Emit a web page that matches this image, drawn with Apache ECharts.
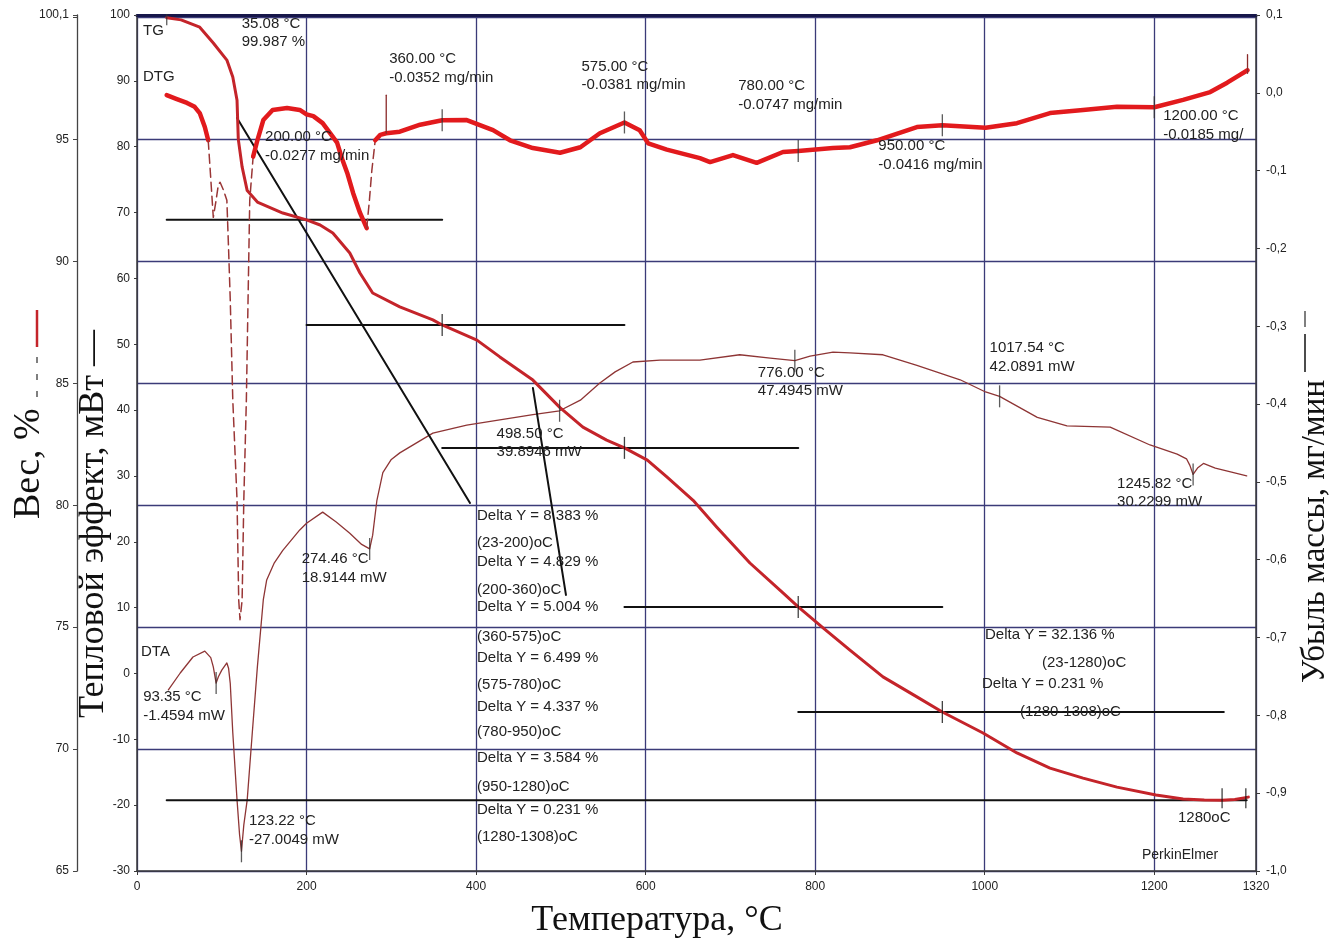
<!DOCTYPE html>
<html>
<head>
<meta charset="utf-8">
<script src="https://cdn.jsdelivr.net/npm/echarts@6/dist/echarts.min.js"></script>
<style>
  html, body { margin: 0; padding: 0; background: #fff; }
  #chart { width: 1331px; height: 942px; }
</style>
</head>
<body>
<div id="chart"></div>
<script>
// ---------- data: temperature (°C) vs signal ----------

// TG, weight %
const tgCurve = [
  [35.08, 99.987], [52, 99.9], [74, 99.6], [90, 98.95], [106, 98.25], [113, 97.56], [118, 96.6],
  [119.5, 95.0], [124, 93.87], [130, 92.9], [142, 92.43], [172, 91.98], [200, 91.7], [216, 91.49],
  [231, 91.16], [251, 90.34], [263, 89.52], [278, 88.7], [310, 88.13], [349, 87.6], [360, 87.39],
  [401, 86.77], [428, 86.08], [467, 85.13], [499, 84.0], [526, 83.2], [554, 82.67], [575, 82.35],
  [602, 81.85], [625, 81.16], [656, 80.2], [684, 79.1], [723, 77.63], [762, 76.4], [780, 75.83],
  [810, 74.95], [841, 74.06], [880, 72.96], [920, 72.14], [950, 71.52], [998, 70.66], [1038, 69.84],
  [1077, 69.22], [1116, 68.81], [1156, 68.44], [1202, 68.12], [1234, 67.95], [1259, 67.91],
  [1280, 67.9], [1295, 67.93], [1311, 68.03]
];

// DTG, mg/min (solid and dashed stretches)
const dtgSolidA = [[35, -0.003], [47, -0.008], [59, -0.013], [68, -0.018], [74, -0.026], [80, -0.044], [84, -0.061]];
const dtgDashA = [
  [84, -0.061], [87, -0.11], [90, -0.16], [93, -0.14], [96, -0.118], [98, -0.115], [102, -0.125],
  [106, -0.138], [108, -0.2], [110, -0.266], [113, -0.395], [118, -0.523], [120, -0.652], [121.5, -0.677],
  [124, -0.652], [126, -0.523], [129, -0.395], [131, -0.266], [133, -0.138], [137, -0.082]
];
const dtgSolidB = [
  [137, -0.082], [142, -0.061], [149, -0.035], [160, -0.022], [177, -0.0195], [192, -0.022], [200, -0.0277],
  [208, -0.03], [219, -0.039], [228, -0.052], [236, -0.064], [242, -0.085], [248, -0.103], [255, -0.129],
  [263, -0.154], [271, -0.174]
];
const dtgDashB = [[271, -0.174], [274, -0.14], [277, -0.1], [281, -0.061]];
const dtgSolidC = [
  [281, -0.061], [287, -0.054], [294, -0.052], [310, -0.05], [334, -0.041],
  [360, -0.0352], [389, -0.035], [420, -0.048], [440, -0.061], [467, -0.071], [499, -0.077], [523, -0.07],
  [546, -0.052], [575, -0.0381], [593, -0.048], [603, -0.065], [625, -0.073], [664, -0.084], [676, -0.089],
  [703, -0.08], [731, -0.09], [762, -0.076], [780, -0.0747], [821, -0.071], [841, -0.07], [873, -0.061],
  [920, -0.044], [950, -0.0416], [1001, -0.045], [1038, -0.039], [1077, -0.026], [1116, -0.022],
  [1156, -0.018], [1200, -0.0185], [1234, -0.009], [1266, 0.001], [1286, 0.013], [1301, 0.023],
  [1310, 0.029]
];
// narrow DTG spikes
const dtgSpikes = [
  [[294, -0.052], [294, -0.003]],
  [[1310, 0.025], [1310, 0.049]]
];

// DTA, mW
const dtaCurve = [
  [37, -2.5], [51, 0.07], [66, 2.5], [80, 3.4], [87, 2.4], [90, 1.0], [93.35, -1.4594], [96, -0.5],
  [100, 0.5], [106, 1.6], [108, 0.8], [110, -1.5], [113, -9.0], [118, -19.2], [121, -24.5],
  [123.22, -27.0049], [126, -23.0], [130, -19.2], [136, -9.0], [142, 1.0], [149, 11.2], [153, 14.2],
  [162, 16.8], [172, 18.7], [192, 21.8], [200, 22.8], [219, 24.5], [235, 23.0], [251, 21.3], [265, 19.6],
  [274.46, 18.9144], [278, 21.0], [283, 26.3], [290, 30.5], [300, 32.5], [310, 33.5], [349, 36.5],
  [389, 37.7], [428, 38.5], [467, 39.3], [498.5, 39.8946], [523, 41.5], [546, 44.1], [564, 45.8],
  [585, 47.3], [617, 47.6], [664, 47.6], [711, 48.4], [747, 47.9], [776, 47.4945], [794, 48.2],
  [821, 48.8], [841, 48.7], [880, 48.4], [920, 46.8], [971, 44.6], [1001, 42.75], [1017.54, 42.0891],
  [1062, 38.9], [1097, 37.6], [1148, 37.4], [1195, 34.7], [1227, 33.3], [1238, 32.6], [1242, 31.6],
  [1245.82, 30.2299], [1251, 31.2], [1258, 31.9], [1266, 31.5], [1272, 31.2], [1290, 30.6], [1309, 30.0]
];

// picked points
const tgPicks = [[35.08, 99.987]];
const dtgPicks = [[200, -0.0277], [360, -0.0352], [575, -0.0381], [780, -0.0747], [950, -0.0416], [1200, -0.0185]];
const dtaPicks = [[93.35, -1.4594], [123.22, -27.0049], [274.46, 18.9144], [498.5, 39.8946], [776, 47.4945], [1017.54, 42.0891], [1245.82, 30.2299]];

// weight steps: level at each step temperature, and the span of its reference line
const stepTemps = [200, 360, 575, 780, 950, 1280];
const stepLevels = [91.7, 87.39, 82.35, 75.83, 71.52, 67.9];
const stepSpans = [[35, 360], [200, 575], [360, 780], [575, 950], [780, 1282], [35, 1309]];
const stepEnds = [1280, 1308];
const stepDeltas = [8.383, 4.829, 5.004, 6.499, 4.337, 3.584, 0.231];
const stepRanges = ['23-200', '200-360', '360-575', '575-780', '780-950', '950-1280', '1280-1308'];
const totalDelta = 32.136;
const totalRange = '23-1280';
const connectorLines = [
  [[118, 95.88], [392.8, 80.09]],
  [[467, 84.81], [506, 76.32]]
];

// axis ticks
const tempTicks = { min: 0, max: 1320, step: 200 };
const weightTicks = { min: 65, max: 100.1, step: 5 };
const dtaTicks = { min: -30, max: 100, step: 10 };
const dtgTicks = { min: -1.0, max: 0.1, step: 0.1 };

// ---------- chart ----------
const SANS = '"Liberation Sans", Arial, sans-serif';
const SERIF = '"Liberation Serif", "Times New Roman", serif';
const gridColor = '#3b3b78';
const axisColor = '#3a3a3a';

const chart = echarts.init(document.getElementById('chart'), null, { renderer: 'canvas' });

function lineSeries(data, yIdx, color, width, dashed, z) {
  return {
    type: 'line', xAxisIndex: 0, yAxisIndex: yIdx, data: data,
    showSymbol: false, symbol: 'none', silent: true, animation: false, z: z,
    lineStyle: { color: color, width: width, type: dashed ? [9, 5] : 'solid', join: 'round', cap: 'round' },
    emphasis: { disabled: true }
  };
}
function tickSeries(data, yIdx, len, offsetY, color) {
  return {
    type: 'scatter', xAxisIndex: 0, yAxisIndex: yIdx, data: data, silent: true, animation: false, z: 6,
    symbol: 'rect', symbolSize: [1.3, len], symbolOffset: [0, offsetY],
    itemStyle: { color: color || '#333' }, emphasis: { disabled: true }
  };
}

const series = [];
// step reference lines
stepSpans.forEach(function (span, i) {
  series.push(lineSeries([[span[0], stepLevels[i]], [span[1], stepLevels[i]]], 0, '#111', 2, false, 3));
});
connectorLines.forEach(function (seg) { series.push(lineSeries(seg, 0, '#111', 2, false, 3)); });
// DTA
series.push(lineSeries(dtaCurve, 1, '#8e3535', 1.3, false, 2));
// TG
series.push(lineSeries(tgCurve, 0, '#c4242a', 3, false, 4));
// DTG
series.push(lineSeries(dtgSolidA, 2, '#e21a1d', 4.5, false, 4));
series.push(lineSeries(dtgDashA, 2, '#9a3636', 1.5, true, 4));
series.push(lineSeries(dtgSolidB, 2, '#e21a1d', 4.5, false, 4));
series.push(lineSeries(dtgDashB, 2, '#9a3636', 1.5, true, 4));
series.push(lineSeries(dtgSolidC, 2, '#e21a1d', 4.5, false, 4));
dtgSpikes.forEach(function (seg) { series.push(lineSeries(seg, 2, '#8a2a2a', 1.3, false, 5)); });
// markers at picked points
series.push(tickSeries(tgPicks, 0, 11, 2));
series.push(tickSeries(stepTemps.slice(1, 5).map(function (t, i) { return [t, stepLevels[i + 1]]; }), 0, 22, 0, '#111'));
series.push(tickSeries(stepEnds.map(function (t) { return [t, stepLevels[5]]; }), 0, 20, -2, '#111'));
series.push(tickSeries(dtgPicks.slice(1), 2, 22, 0));
series.push(tickSeries(dtaPicks, 1, 22, 0));

const option = {
  animation: false,
  backgroundColor: '#ffffff',
  grid: { left: 137, right: 75, top: 15, bottom: 71, containLabel: false, outerBoundsMode: 'none' },
  xAxis: [
    {
      type: 'value', min: tempTicks.min, max: tempTicks.max, interval: tempTicks.step, position: 'bottom',
      axisLine: { show: true, onZero: false, lineStyle: { color: axisColor, width: 1.5 } },
      axisTick: { show: true, length: 4, lineStyle: { color: axisColor } },
      axisLabel: { color: '#222', fontSize: 12, fontFamily: SANS, margin: 10, formatter: function (v) { return String(v); } },
      splitLine: { show: true, lineStyle: { color: gridColor, width: 1.3 } }
    },
    {
      type: 'value', min: tempTicks.min, max: tempTicks.max, position: 'top',
      axisLine: { show: true, onZero: false, lineStyle: { color: '#17174a', width: 3 } },
      axisTick: { show: false }, axisLabel: { show: false }, splitLine: { show: false }
    }
  ],
  yAxis: [
    {
      type: 'value', min: weightTicks.min, max: weightTicks.max, interval: weightTicks.step,
      position: 'left', offset: 60,
      axisLine: { show: true, onZero: false, lineStyle: { color: '#444', width: 1.3 } },
      axisTick: { show: true, length: 4, lineStyle: { color: '#444' } },
      axisLabel: {
        color: '#222', fontSize: 12, fontFamily: SANS, margin: 8,
        formatter: function (v) {
          if (Math.abs(v - 100) < 1e-9) return '';
          return String(+v.toFixed(1)).replace('.', ',');
        }
      },
      splitLine: { show: true, lineStyle: { color: gridColor, width: 1.3 } }
    },
    {
      type: 'value', min: dtaTicks.min, max: dtaTicks.max, interval: dtaTicks.step,
      position: 'left', offset: 0,
      axisLine: { show: true, onZero: false, lineStyle: { color: axisColor, width: 1.5 } },
      axisTick: { show: true, length: 3, lineStyle: { color: axisColor } },
      axisLabel: { color: '#222', fontSize: 12, fontFamily: SANS, margin: 7 },
      splitLine: { show: false }
    },
    {
      type: 'value', min: dtgTicks.min, max: dtgTicks.max, interval: dtgTicks.step,
      position: 'right', offset: 0,
      axisLine: { show: true, onZero: false, lineStyle: { color: axisColor, width: 1.5 } },
      axisTick: { show: true, length: 4, lineStyle: { color: axisColor } },
      axisLabel: {
        color: '#222', fontSize: 12, fontFamily: SANS, margin: 10,
        formatter: function (v) { return (Math.round(v * 10) / 10).toFixed(1).replace('.', ','); }
      },
      splitLine: { show: false }
    }
  ],
  series: series
};
chart.setOption(option);

// ---------- annotations ----------
const LH = 18.5;
function txt(x, y, text, extra) {
  return {
    type: 'text', x: x, y: y, silent: true, z: 100,
    style: Object.assign({
      text: text, fill: '#222', font: '15px ' + SANS,
      textAlign: 'left', textVerticalAlign: 'middle', lineHeight: LH
    }, extra || {})
  };
}
function pickLabel(yIdx, pt, off, second, extra) {
  const p = chart.convertToPixel({ xAxisIndex: 0, yAxisIndex: yIdx }, pt);
  return txt(p[0] + off[0], p[1] + off[1] - LH / 2,
    pt[0].toFixed(2) + ' °C\n' + second, Object.assign({ textVerticalAlign: 'top' }, extra || {}));
}

const tgPickOffset = [[75, 6]];
const dtgPickOffset = [[-41.5, 22.6], [-53, -61], [-43, -56], [-60, -65], [-64, 21], [9, 9]];
const dtaPickOffset = [[-73, 14], [7.5, -30], [-68, 10], [-63, 23], [-37, 12], [-10, -48], [-76, 9]];

const graphics = [];
tgPicks.forEach(function (pt, i) {
  graphics.push(pickLabel(0, pt, tgPickOffset[i], pt[1].toFixed(3) + ' %'));
});
dtgPicks.forEach(function (pt, i) {
  const last = i === dtgPicks.length - 1;
  graphics.push(pickLabel(2, pt, dtgPickOffset[i], pt[1].toFixed(4) + ' mg/min',
    last ? { width: 93, overflow: 'truncate', ellipsis: '' } : null));
});
dtaPicks.forEach(function (pt, i) {
  graphics.push(pickLabel(1, pt, dtaPickOffset[i], pt[1].toFixed(4) + ' mW'));
});

// curve names
graphics.push(txt(143, 31, 'TG'));
graphics.push(txt(143, 77, 'DTG'));
graphics.push(txt(141, 652, 'DTA'));

// step results list
const deltaRowY = [516, 562, 607, 658, 707, 758, 810];
const rangeRowY = [543, 590, 637, 685, 732, 787, 837];
stepDeltas.forEach(function (d, i) {
  graphics.push(txt(477, deltaRowY[i], 'Delta Y = ' + d.toFixed(3) + ' %'));
  graphics.push(txt(477, rangeRowY[i], '(' + stepRanges[i] + ')oC'));
});
graphics.push(txt(985, 635, 'Delta Y = ' + totalDelta.toFixed(3) + ' %'));
graphics.push(txt(1042, 663, '(' + totalRange + ')oC'));
graphics.push(txt(982, 684, 'Delta Y = ' + stepDeltas[6].toFixed(3) + ' %'));
graphics.push(txt(1020, 712, '(' + stepRanges[6] + ')oC'));
graphics.push(txt(1178, 818, stepTemps[5] + 'oC'));
graphics.push(txt(1142, 855, 'PerkinElmer', { font: '14px ' + SANS }));

// axis titles
graphics.push({
  type: 'text', x: 29, y: 519, rotation: Math.PI / 2, silent: true, z: 100,
  style: { text: 'Вес, %', fill: '#111', font: '38px ' + SERIF, textAlign: 'left', textVerticalAlign: 'middle' }
});
graphics.push({
  type: 'line', silent: true, z: 100,
  shape: { x1: 37, y1: 397, x2: 37, y2: 352 },
  style: { stroke: '#555', lineWidth: 1.5, lineDash: [6, 11] }
});
graphics.push({
  type: 'line', silent: true, z: 100,
  shape: { x1: 37, y1: 347, x2: 37, y2: 310 },
  style: { stroke: '#c4242a', lineWidth: 2.5 }
});
graphics.push({
  type: 'text', x: 94, y: 718, rotation: Math.PI / 2, silent: true, z: 100,
  style: { text: 'Тепловой эффект, мВт —', fill: '#111', font: '36px ' + SERIF, textAlign: 'left', textVerticalAlign: 'middle' }
});
graphics.push({
  type: 'text', x: 1315, y: 683, rotation: Math.PI / 2, silent: true, z: 100,
  style: { text: 'Убыль массы, мг/мин', fill: '#111', font: '33px ' + SERIF, textAlign: 'left', textVerticalAlign: 'middle' }
});
graphics.push({
  type: 'line', silent: true, z: 100,
  shape: { x1: 1305, y1: 372, x2: 1305, y2: 334 },
  style: { stroke: '#111', lineWidth: 1.5 }
});
graphics.push({
  type: 'line', silent: true, z: 100,
  shape: { x1: 1305, y1: 327, x2: 1305, y2: 311 },
  style: { stroke: '#555', lineWidth: 1.5 }
});
graphics.push({
  type: 'text', x: 657, y: 921, silent: true, z: 100,
  style: { text: 'Температура, °С', fill: '#111', font: '36px ' + SERIF, textAlign: 'center', textVerticalAlign: 'middle' }
});

chart.setOption({ graphic: { elements: graphics } });
</script>
</body>
</html>
